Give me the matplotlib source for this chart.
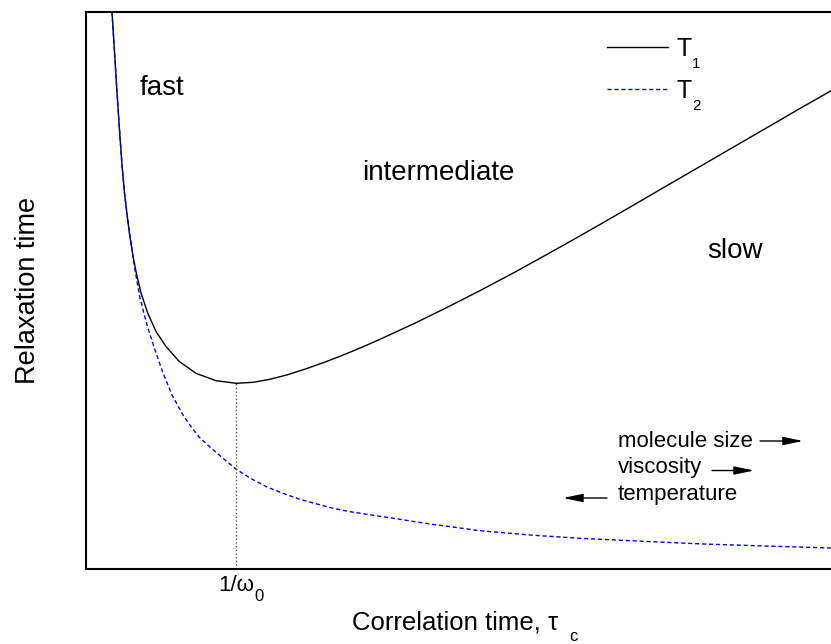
import numpy as np
import matplotlib
matplotlib.use("Agg")
import matplotlib.pyplot as plt

plt.rcParams["font.family"] = ["Liberation Sans", "DejaVu Sans"]

# Correlation time (arbitrary units) and relaxation times
tau_t1 = [3.490, 3.826, 4.161, 4.497, 4.832, 5.168, 5.503, 5.839, 6.309, 6.779,
          7.383, 8.282, 9.396, 10.738, 12.523, 14.765, 17.450, 20.174, 22.456,
          24.698, 26.940, 29.624, 32.309, 34.993, 37.678, 39.463, 43.933, 48.416,
          52.886, 57.356, 61.839, 65.638, 68.993, 73.463, 77.946, 82.416, 86.886,
          91.369, 95.839, 100.0]
t1 = [100.00, 92.82, 85.64, 78.82, 72.53, 67.50, 63.73, 60.14, 56.19, 52.96,
      49.55, 45.96, 42.64, 39.95, 37.25, 35.13, 33.81, 33.34, 33.52,
      34.06, 34.83, 35.98, 37.27, 38.67, 40.18, 41.24, 43.99, 46.93,
      49.98, 53.14, 56.45, 59.30, 61.85, 65.31, 68.80, 72.26, 75.73,
      79.21, 82.68, 85.85]

tau_t2 = [3.490, 3.826, 4.161, 4.497, 4.832, 5.168, 5.436, 5.906, 6.577, 7.248,
          8.188, 9.262, 10.336, 11.544, 13.020, 14.228, 15.302, 16.644, 18.658,
          20.134, 22.013, 24.295, 26.443, 28.725, 31.007, 33.154, 35.436, 37.718,
          40.403, 42.148, 46.174, 52.886, 59.597, 66.309, 73.020, 82.819, 90.470,
          100.0]
t2 = [100.00, 92.82, 85.64, 78.82, 72.53, 67.50, 64.45, 59.78, 53.68, 48.65,
      43.81, 39.32, 35.19, 31.24, 27.65, 25.31, 23.52, 21.90, 19.57,
      17.95, 16.34, 14.72, 13.59, 12.51, 11.67, 10.90, 10.29, 9.82,
      9.28, 8.92, 8.08, 6.88, 6.10, 5.51, 5.08, 4.49, 4.16,
      3.77]

series_labels = ["T", "T"]
series_subs = ["1", "2"]
tick_label = "1/ω"
tick_sub = "0"
regions = ["fast", "intermediate", "slow"]
trends = ["molecule size", "viscosity", "temperature"]

W, H = 831, 644
fig = plt.figure(figsize=(W / 100, H / 100), dpi=100)
ax = fig.add_axes([86 / W, 75 / H, 749 / W, 557 / H])
ax.set_xlim(0, 100.54)
ax.set_ylim(0, 100)

ax.plot(tau_t1, t1, color="black", lw=1.0, label=series_labels[0])
ax.plot(tau_t2, t2, color="#0000ff", lw=1.0, ls=(0, (3, 2)), label=series_labels[1])

# Vertical marker at the T1 minimum (tau_c = 1/omega_0)
i_min = int(np.argmin(t1))
x_min = tau_t1[i_min]
ax.plot([x_min, x_min], [0, t1[i_min]], color="#555555", lw=1.0, ls=":")

for side in ax.spines.values():
    side.set_linewidth(1.5)
ax.set_yticks([])
ax.set_xticks([x_min], labels=[tick_label])
ax.tick_params(axis="x", length=0, pad=4.5, labelsize=16)

ax.set_xlabel("Correlation time, τ", fontsize=18.5)
ax.xaxis.set_label_coords(0.4933, -0.074)
ax.set_ylabel("Relaxation time", fontsize=19.5)
ax.yaxis.set_label_coords(-0.060, 0.5)

# Subscripts attached to tick label and x label
tl = ax.get_xticklabels()[0]
ax.annotate(tick_sub, xy=(1, 0), xycoords=tl, xytext=(0, 4.9),
            textcoords="offset points", ha="left", va="top", fontsize=12)
ax.annotate("c", xy=(1, 0), xycoords=ax.xaxis.label, xytext=(8, 3.9),
            textcoords="offset points", ha="left", va="top", fontsize=12)

# Legend
leg = ax.legend(loc="upper left", bbox_to_anchor=(0.6956, 0.955), frameon=False,
                fontsize=18, handlelength=2.44, handletextpad=0.32,
                borderpad=0, borderaxespad=0, labelspacing=0.72)
for txt, sub in zip(leg.get_texts(), series_subs):
    ax.annotate(sub, xy=(1, 0), xycoords=txt, xytext=(0.7, 3.1),
                textcoords="offset points", ha="left", va="top", fontsize=11,
                zorder=10)

# Regime labels
ax.text(0.1015, 0.851, regions[0], transform=ax.transAxes, ha="center",
        va="baseline", fontsize=20)
ax.text(0.4700, 0.6984, regions[1], transform=ax.transAxes, ha="center",
        va="baseline", fontsize=20)
ax.text(0.8665, 0.5583, regions[2], transform=ax.transAxes, ha="center",
        va="baseline", fontsize=20)

# Trend labels with arrows
text_y = [0.2190, 0.1724, 0.1239]
for lbl, yy in zip(trends, text_y):
    ax.text(0.7103, yy, lbl, transform=ax.transAxes, ha="left", va="baseline",
            fontsize=16)

arrow_spec = [((0.8999, 0.2298), (0.9573, 0.2298)),
              ((0.8358, 0.1768), (0.8919, 0.1768)),
              ((0.6956, 0.1275), (0.6368, 0.1275))]
for start, end in arrow_spec:
    ax.annotate("", xy=end, xycoords="axes fraction", xytext=start,
                textcoords="axes fraction",
                arrowprops=dict(arrowstyle="-|>,head_length=1.2,head_width=0.25",
                                mutation_scale=10, color="black", lw=1.0,
                                shrinkA=0, shrinkB=0))

fig.savefig("out.png", dpi=100)
